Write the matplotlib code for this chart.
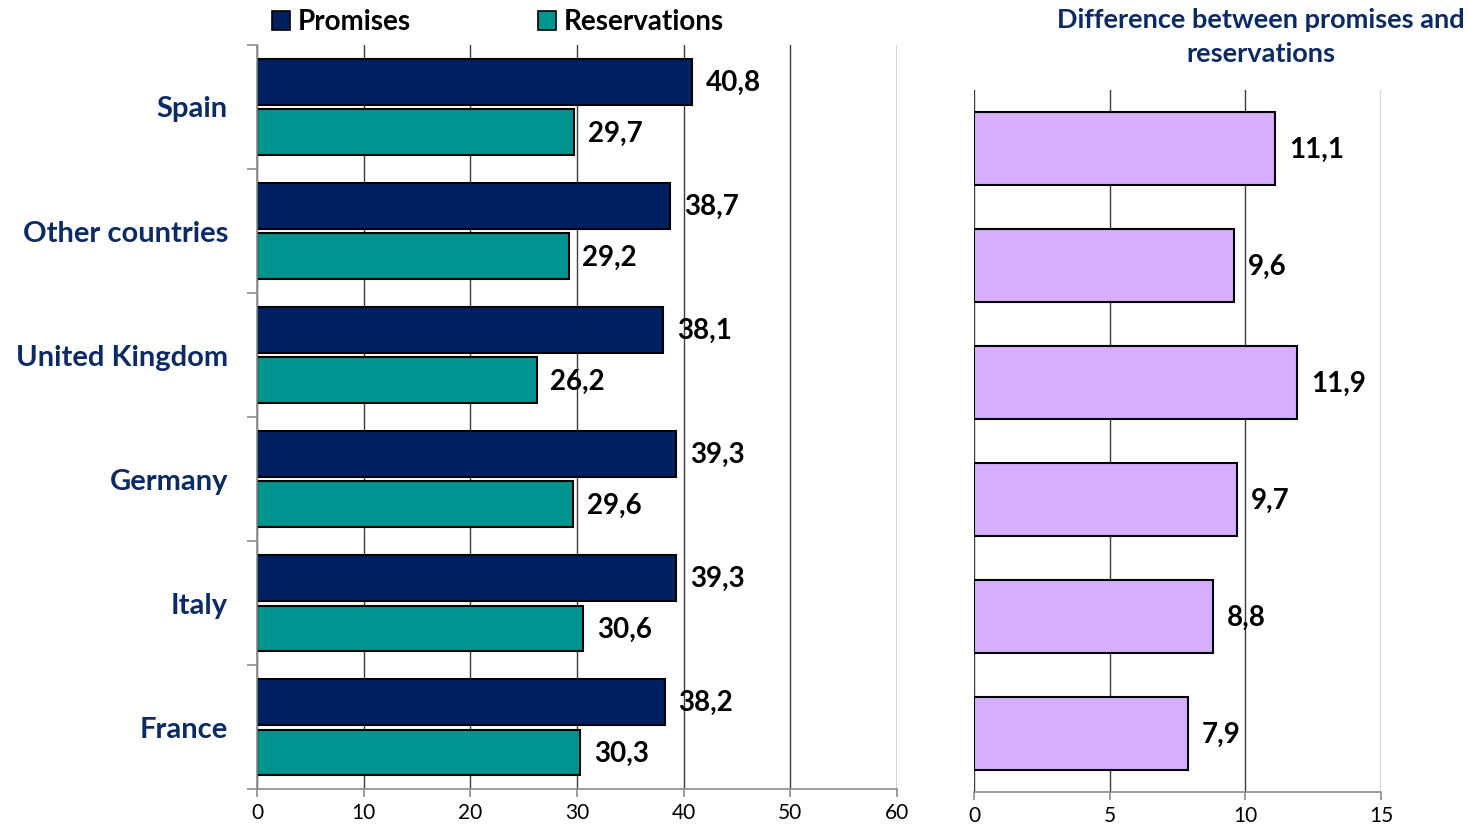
import numpy as np
import matplotlib.pyplot as plt
from matplotlib.patches import Patch
from matplotlib.ticker import FixedLocator, NullFormatter

countries = ['Spain', 'Other countries', 'United Kingdom', 'Germany', 'Italy', 'France']
promises = [40.8, 38.7, 38.1, 39.3, 39.3, 38.2]
reservations = [29.7, 29.2, 26.2, 29.6, 30.6, 30.3]
difference = [11.1, 9.6, 11.9, 9.7, 8.8, 7.9]

NAVY = '#002060'
TEAL = '#009490'
LILAC = '#D7AEFF'
LABEL = '#0C2A66'
GRID = '#3c3c3c'
SPINE = '#8c8c8c'

plt.rcParams['font.family'] = ['Lato', 'DejaVu Sans']


def fmt(v):
    return f'{v:.1f}'.replace('.', ',')


def add_labels(ax, bars, values):
    for b, v in zip(bars, values):
        ax.annotate(fmt(v), (b.get_width(), b.get_y() + b.get_height() / 2),
                    xytext=(10, -1), textcoords='offset points',
                    va='center', ha='left', fontsize=20, fontweight='bold', color='black')


fig = plt.figure(figsize=(14.68, 8.27), dpi=100)

# left panel: promises vs reservations
ax = fig.add_axes([0.1751, 0.0459, 0.4360, 0.8997])
y = np.arange(len(countries))
b1 = ax.barh(y - 0.205, promises, height=0.37, color=NAVY, edgecolor='black', linewidth=1.5)
b2 = ax.barh(y + 0.205, reservations, height=0.37, color=TEAL, edgecolor='black', linewidth=1.5)
add_labels(ax, b1, promises)
add_labels(ax, b2, reservations)

ax.set_xlim(0, 60)
ax.set_ylim(len(countries) - 0.5, -0.5)
ax.set_xticks(range(0, 61, 10))
ax.set_yticks(y)
ax.set_yticklabels(countries, fontsize=21, fontweight='bold', color=LABEL)
ax.yaxis.set_minor_locator(FixedLocator(np.arange(-0.5, len(countries), 1)))
ax.yaxis.set_minor_formatter(NullFormatter())
ax.tick_params(axis='y', which='major', length=0, pad=21)
ax.tick_params(axis='y', which='minor', length=7, width=1.2, color=SPINE)
ax.tick_params(axis='x', length=6, width=1.2, color=SPINE, labelsize=15, pad=4)
ax.grid(axis='x', color=GRID, linewidth=1)
ax.set_axisbelow(True)
for s in ['top', 'right']:
    ax.spines[s].set_visible(False)
for s in ['left', 'bottom']:
    ax.spines[s].set_color(SPINE)
    ax.spines[s].set_linewidth(1.2)

handles = [Patch(facecolor=NAVY, edgecolor='black', linewidth=1.2, label='Promises'),
           Patch(facecolor=TEAL, edgecolor='black', linewidth=1.2, label='Reservations')]
fig.legend(handles=handles, loc='upper left', bbox_to_anchor=(0.1685, 1.019), ncol=2,
           frameon=False, handlelength=0.65, handleheight=0.65, handletextpad=0.25,
           columnspacing=4.6, prop={'size': 20, 'weight': 'bold'})

# right panel: gap between the two
ax2 = fig.add_axes([0.6635, 0.0423, 0.2772, 0.8489])
b3 = ax2.barh(y, difference, height=0.62, color=LILAC, edgecolor='black', linewidth=1.5)
add_labels(ax2, b3, difference)
ax2.set_xlim(0, 15)
ax2.set_ylim(len(countries) - 0.5, -0.5)
ax2.set_xticks([0, 5, 10, 15])
ax2.set_yticks([])
ax2.tick_params(axis='x', length=6, width=1.2, color=SPINE, labelsize=15, pad=4)
ax2.grid(axis='x', color=GRID, linewidth=1)
ax2.set_axisbelow(True)
for s in ['top', 'right', 'left']:
    ax2.spines[s].set_visible(False)
ax2.spines['bottom'].set_color(SPINE)
ax2.spines['bottom'].set_linewidth(1.2)

fig.text(0.859, 0.99, 'Difference between promises and\nreservations', ha='center', va='top',
         fontsize=19.5, fontweight='bold', color=LABEL, linespacing=1.5)

fig.savefig('out.png', dpi=100)
